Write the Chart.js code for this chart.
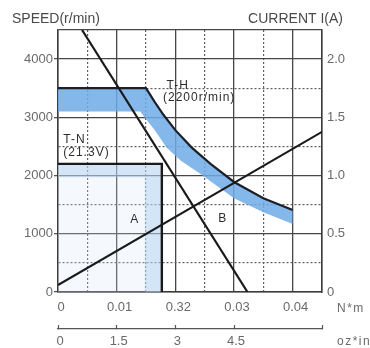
<!DOCTYPE html>
<html>
<head>
<meta charset="utf-8">
<script src="https://cdn.jsdelivr.net/npm/chart.js@4.4.1/dist/chart.umd.min.js"></script>
<style>
    html, body { margin: 0; padding: 0; background: #fff; }
</style>
</head>
<body>
<canvas id="chart" width="370" height="348"></canvas>
<script>
"use strict";

// torque axis (N*m) with the oz*in scale under it
const torqueTicks = [0, 0.01, 0.02, 0.03, 0.04];
const torqueTickLabels = ["0", "0.01", "0.32", "0.03", "0.04"];
const ozinTicks = [0, 1.5, 3, 4.5, 6];
const ozinTickLabels = ["0", "1.5", "3", "4.5", "6"];
const speedTicks = [0, 1000, 2000, 3000, 4000];
const currentTicks = [0, 0.5, 1, 1.5, 2];
const currentTickLabels = ["0", "0.5", "1.0", "1.5", "2.0"];

// T-H curve (2200 r/min) and lower edge of its blue band
const thTorque = [0, 0.015, 0.0165, 0.018, 0.02, 0.0228, 0.026, 0.03, 0.035, 0.04];
const thSpeed = [3500, 3500, 3260, 3040, 2780, 2480, 2200, 1890, 1610, 1410];
const bandTorque = [0, 0.014, 0.0165, 0.0185, 0.021, 0.024, 0.03, 0.035, 0.04];
const bandSpeed = [3100, 3100, 2780, 2480, 2250, 2050, 1610, 1370, 1170];

// T-N curve (21.3V) and the pale band under it
const tnTorque = [0, 0.0177, 0.0177];
const tnSpeed = [2200, 2200, 0];
const tnBandTorque = [0, 0, 0.0148, 0.0148, 0.0177, 0.0177];
const tnBandSpeed = [2200, 1970, 1970, 0, 0, 2200];

// straight lines: speed falls, current rises
const nLineTorque = [0.0041, 0.0323];
const nLineSpeed = [4500, 0];
const iLineTorque = [0, 0.045];
const iLineCurrent = [0.06, 1.375];

// text notes inside the plot
const noteLabels = ["T-H", "(2200r/min)", "T-N", "(21.3V)", "A", "B"];
const noteTorque = [0.0185, 0.0179, 0.0009, 0.0009, 0.0123, 0.0273];
const noteSpeed = [3540, 3330, 2610, 2390, 1240, 1255];

const TICK_FONT = {family: "'Liberation Sans', Arial, sans-serif", size: 13};
const TICK_COLOR = "#6a6a6a";

function pts(xs, ys) {
    return xs.map((x, i) => ({x: x, y: ys[i]}));
}

function near(list, v) {
    return list.findIndex(t => Math.abs(t - v) < 1e-6);
}

function gridFor(major) {
    return {
        color: c => (c.tick && major(c.tick.value)) ? "#474747" : "#5e5e5e",
        lineWidth: c => (c.tick && major(c.tick.value)) ? 1.3 : 1.2
    };
}

const xMajor = v => near(torqueTicks, v) >= 0 || v > 0.0449;
const yMajor = v => near(speedTicks, v) >= 0 || v >= 4500;

const notesPlugin = {
    id: "notes",
    afterDatasetsDraw(chart) {
        const {ctx, chartArea} = chart;
        const x = chart.scales.x;
        const y = chart.scales.y;
        ctx.save();
        ctx.textBaseline = "middle";
        ctx.textAlign = "left";
        ctx.fillStyle = "#2e2e2e";
        ctx.font = "12px 'Liberation Sans', Arial, sans-serif";
        ctx.letterSpacing = "1px";
        noteLabels.forEach((t, i) => {
            ctx.fillText(t, x.getPixelForValue(noteTorque[i]), y.getPixelForValue(noteSpeed[i]));
        });

        // axis titles and units
        ctx.fillStyle = "#4a4a4a";
        ctx.letterSpacing = "0px";
        ctx.font = "14px 'Liberation Sans', Arial, sans-serif";
        ctx.fillText("SPEED(r/min)", chartArea.left - 46, chartArea.top - 11);
        ctx.textAlign = "right";
        ctx.fillText("CURRENT I(A)", chartArea.right + 21, chartArea.top - 11);
        ctx.textAlign = "left";
        ctx.fillStyle = TICK_COLOR;
        ctx.font = "12px 'Liberation Sans', Arial, sans-serif";
        ctx.letterSpacing = "1.5px";
        ctx.fillText("N*m", chartArea.right + 15, chartArea.bottom + 17);
        ctx.fillText("oz*in", chartArea.right + 15, chartArea.bottom + 50);
        ctx.restore();
    }
};

new Chart(document.getElementById("chart").getContext("2d"), {
    type: "scatter",
    data: {
        datasets: [
            {
                label: "T-N area",
                data: pts(tnTorque, tnSpeed),
                showLine: true,
                borderWidth: 0,
                backgroundColor: "rgba(215,232,248,0.25)",
                fill: "origin",
                order: 7
            },
            {
                label: "T-N band",
                data: pts(tnBandTorque, tnBandSpeed),
                showLine: true,
                borderWidth: 0,
                backgroundColor: "rgba(170,206,240,0.45)",
                fill: "shape",
                order: 6
            },
            {
                label: "T-H band",
                data: pts(bandTorque, bandSpeed),
                showLine: true,
                borderWidth: 0,
                backgroundColor: "rgba(110,172,232,0.85)",
                fill: "+1",
                order: 5
            },
            {
                label: "T-H",
                data: pts(thTorque, thSpeed),
                showLine: true,
                borderColor: "#1c2026",
                borderWidth: 2.2,
                fill: false,
                order: 2
            },
            {
                label: "T-N",
                data: pts(tnTorque, tnSpeed),
                showLine: true,
                borderColor: "#1a1a1a",
                borderWidth: 2.4,
                fill: false,
                order: 2
            },
            {
                label: "N",
                data: pts(nLineTorque, nLineSpeed),
                showLine: true,
                borderColor: "#1a1a1a",
                borderWidth: 2.2,
                fill: false,
                order: 1
            },
            {
                label: "I",
                yAxisID: "y2",
                data: pts(iLineTorque, iLineCurrent),
                showLine: true,
                borderColor: "#1a1a1a",
                borderWidth: 2,
                fill: false,
                order: 1
            }
        ]
    },
    options: {
        responsive: false,
        animation: false,
        events: [],
        layout: {padding: {top: 30, left: 0, right: 0, bottom: 0}},
        elements: {point: {radius: 0}, line: {tension: 0}},
        plugins: {legend: {display: false}, tooltip: {enabled: false}},
        scales: {
            x: {
                type: "linear",
                position: "bottom",
                weight: 0,
                min: 0,
                max: 0.045,
                afterFit: s => { s.height = 37; },
                ticks: {
                    stepSize: 0.005,
                    autoSkip: false,
                    maxRotation: 0,
                    padding: 8,
                    labelOffset: 3,
                    color: TICK_COLOR,
                    font: TICK_FONT,
                    callback: v => {
                        const i = near(torqueTicks, v);
                        return i < 0 ? "" : torqueTickLabels[i];
                    }
                },
                grid: Object.assign(gridFor(xMajor), {drawTicks: false}),
                border: {
                    color: "#3c3c3c",
                    width: 1.5,
                    dash: c => (c.tick && !xMajor(c.tick.value)) ? [2, 2] : []
                }
            },
            x2: {
                type: "linear",
                position: "bottom",
                weight: 1,
                min: 0,
                max: 6.75,
                afterFit: s => { s.height = 19; },
                ticks: {
                    stepSize: 1.5,
                    autoSkip: false,
                    maxRotation: 0,
                    padding: 9,
                    labelOffset: 2,
                    color: TICK_COLOR,
                    font: TICK_FONT,
                    callback: v => {
                        const i = near(ozinTicks, v);
                        return i < 0 ? "" : ozinTickLabels[i];
                    }
                },
                grid: {
                    drawOnChartArea: false,
                    tickLength: -4,
                    tickColor: "#555",
                    tickWidth: 1.2
                },
                border: {color: "#555", width: 1.3}
            },
            y: {
                type: "linear",
                position: "left",
                min: 0,
                max: 4500,
                afterFit: s => { s.width = 58; },
                ticks: {
                    stepSize: 500,
                    autoSkip: false,
                    padding: 1,
                    color: TICK_COLOR,
                    font: TICK_FONT,
                    callback: v => near(speedTicks, v) < 0 ? "" : String(v)
                },
                grid: Object.assign(gridFor(yMajor), {
                    tickLength: 4,
                    tickColor: c => (c.tick && near(speedTicks, c.tick.value) >= 0) ? "#555" : "rgba(0,0,0,0)"
                }),
                border: {
                    color: "#3c3c3c",
                    width: 1.5,
                    dash: c => (c.tick && !yMajor(c.tick.value)) ? [2, 2] : []
                }
            },
            y2: {
                type: "linear",
                position: "right",
                min: 0,
                max: 2.25,
                afterFit: s => { s.width = 48; },
                ticks: {
                    stepSize: 0.5,
                    autoSkip: false,
                    padding: 5,
                    color: TICK_COLOR,
                    font: TICK_FONT,
                    callback: v => {
                        const i = near(currentTicks, v);
                        return i < 0 ? "" : currentTickLabels[i];
                    }
                },
                grid: {drawOnChartArea: false, drawTicks: false},
                border: {color: "#3c3c3c", width: 1.5}
            }
        }
    },
    plugins: [notesPlugin]
});
</script>
</body>
</html>
